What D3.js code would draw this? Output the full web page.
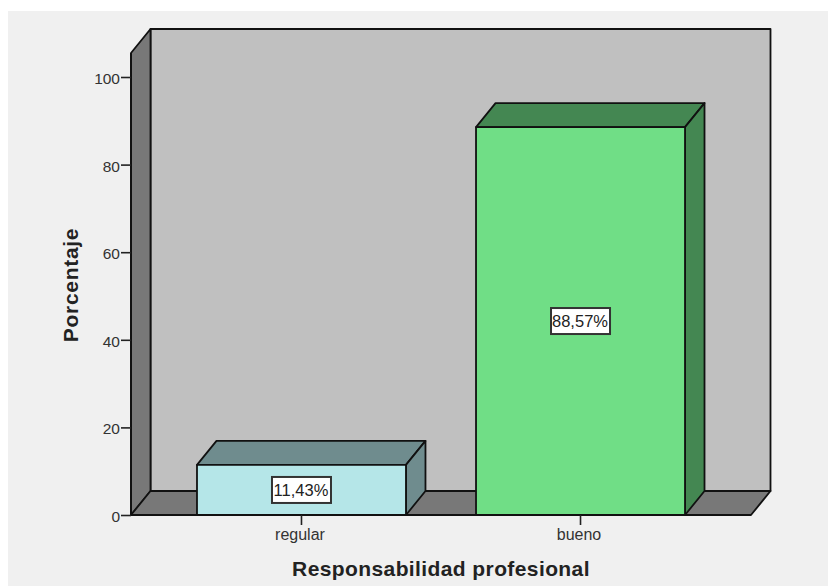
<!DOCTYPE html>
<html>
<head>
<meta charset="utf-8">
<script src="https://cdn.jsdelivr.net/npm/d3@7"></script>
<style>
    html, body { margin: 0; padding: 0; background: #fff; }
    svg { display: block; }
    text { font-family: "Liberation Sans", Arial, sans-serif; fill: #222; }
</style>
</head>
<body>
<svg width="828" height="586"></svg>
<script>
var categories = ['regular', 'bueno'];
var percentages = [11.43, 88.57];
var valueLabels = ['11,43%', '88,57%'];
var frontColors = ['#b5e6e8', '#70de86'];
var sideColors = ['#6f8c8e', '#448752'];
var yTicks = [0, 20, 40, 60, 80, 100];

var depthX = 19.5,
    depthY = -24;

var svg = d3.select('svg');

var x = d3.scaleBand()
    .domain(categories)
    .range([131, 751])
    .paddingInner(0.251)
    .paddingOuter(0.2365);

var y = d3.scaleLinear()
    .domain([0, 100])
    .range([515, 77]);

var plotTop = 53;
var plotLeft = x.range()[0],
    plotRight = x.range()[1],
    plotBottom = y(0);

function poly(points, fill) {
    return svg.append('polygon')
        .attr('points', points.map(function(p) { return p.join(','); }).join(' '))
        .attr('fill', fill)
        .attr('stroke', '#111')
        .attr('stroke-width', 1.8)
        .attr('stroke-linejoin', 'round');
}

// page panel
svg.append('rect')
    .attr('x', 8).attr('y', 11)
    .attr('width', 820).attr('height', 575)
    .attr('fill', '#f0f0f0');

// back wall, side wall, floor
poly([[plotLeft + depthX, plotTop + depthY], [plotRight + depthX, plotTop + depthY],
      [plotRight + depthX, plotBottom + depthY], [plotLeft + depthX, plotBottom + depthY]], '#c0c0c0');
poly([[plotLeft, plotTop], [plotLeft + depthX, plotTop + depthY],
      [plotLeft + depthX, plotBottom + depthY], [plotLeft, plotBottom]], '#787878');
poly([[plotLeft, plotBottom], [plotLeft + depthX, plotBottom + depthY],
      [plotRight + depthX, plotBottom + depthY], [plotRight, plotBottom]], '#787878');

// bars
categories.forEach(function(c, i) {
    var x0 = x(c),
        x1 = x(c) + x.bandwidth(),
        yTop = y(percentages[i]);
    poly([[x0, yTop], [x0 + depthX, yTop + depthY], [x1 + depthX, yTop + depthY], [x1, yTop]], sideColors[i]);
    poly([[x1, yTop], [x1 + depthX, yTop + depthY], [x1 + depthX, plotBottom + depthY], [x1, plotBottom]], sideColors[i]);
    poly([[x0, yTop], [x1, yTop], [x1, plotBottom], [x0, plotBottom]], frontColors[i]);

    var cx = x0 + x.bandwidth() / 2,
        cy = (yTop + plotBottom) / 2;
    svg.append('rect')
        .attr('x', cx - 29.5).attr('y', cy - 13)
        .attr('width', 59).attr('height', 26)
        .attr('fill', '#fff')
        .attr('stroke', '#333')
        .attr('stroke-width', 2);
    svg.append('text')
        .attr('x', cx - 0.5).attr('y', cy + 6)
        .attr('text-anchor', 'middle')
        .attr('font-size', 16.5)
        .text(valueLabels[i]);
});

// axes
var yAxis = svg.append('g')
    .attr('transform', 'translate(' + plotLeft + ',0)')
    .call(d3.axisLeft(y).tickValues(yTicks).tickSize(10).tickPadding(1));
var xAxis = svg.append('g')
    .attr('transform', 'translate(0,' + plotBottom + ')')
    .call(d3.axisBottom(x).tickSize(10).tickPadding(4));

yAxis.select('.domain').attr('d', 'M0,' + plotTop + 'V' + plotBottom).attr('stroke', '#111').attr('stroke-width', 1.8);
xAxis.select('.domain').attr('d', 'M' + plotLeft + ',0H' + plotRight).attr('stroke', '#111').attr('stroke-width', 1.8);
svg.selectAll('.tick line').attr('stroke', '#222').attr('stroke-width', 1.6);
yAxis.selectAll('text').attr('font-size', 15.5).attr('dy', '0.42em').attr('font-family', '"Liberation Sans", Arial, sans-serif');
xAxis.selectAll('text').attr('font-size', 16).attr('dx', -1.5).attr('font-family', '"Liberation Sans", Arial, sans-serif');
svg.selectAll('.tick text').style('fill', '#333');

// axis titles
svg.append('text')
    .attr('x', 441).attr('y', 575.5)
    .attr('text-anchor', 'middle')
    .attr('font-size', 21)
    .attr('font-weight', 'bold')
    .attr('letter-spacing', 0.4)
    .text('Responsabilidad profesional');
svg.append('text')
    .attr('transform', 'translate(77.5,285) rotate(-90)')
    .attr('text-anchor', 'middle')
    .attr('font-size', 21)
    .attr('font-weight', 'bold')
    .attr('letter-spacing', 0.7)
    .text('Porcentaje');
</script>
</body>
</html>
